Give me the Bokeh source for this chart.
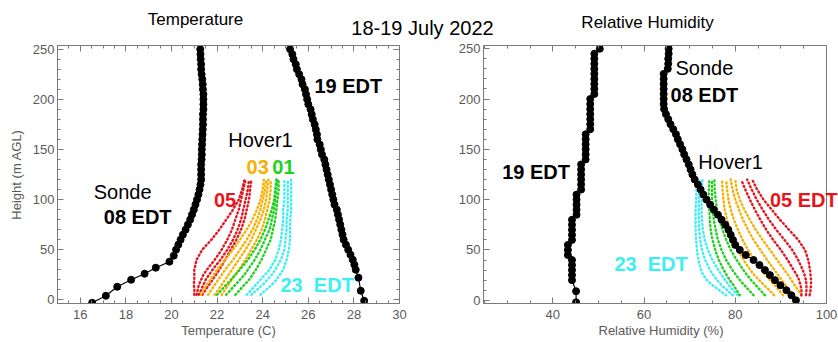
from bokeh.plotting import figure
from bokeh.models import Range1d, FixedTicker, LinearAxis, Label, Span
from bokeh.layouts import column, row
from bokeh.embed import file_html
from bokeh.resources import INLINE

FONT = "Liberation Sans"

# ---------------- data ----------------
HOVER_H = [5, 10, 15, 20, 25, 30, 40, 50, 60, 70, 80, 90, 100, 110, 120]

# Temperature (C) hover profiles
T_RED = [
    [21.0, 21.0, 20.98, 21.0, 21.0, 21.0, 21.1, 21.35, 21.75, 22.1, 22.4, 22.7, 22.95, 23.1, 23.2],
    [21.1, 21.15, 21.2, 21.3, 21.4, 21.55, 21.9, 22.2, 22.45, 22.65, 22.8, 22.95, 23.05, 23.15, 23.25],
    [21.2, 21.3, 21.4, 21.5, 21.65, 21.8, 22.15, 22.45, 22.7, 22.9, 23.05, 23.15, 23.25, 23.35, 23.4],
    [21.35, 21.5, 21.65, 21.8, 21.95, 22.1, 22.35, 22.6, 22.85, 23.05, 23.2, 23.3, 23.4, 23.45, 23.5],
]
T_ORANGE = [
    [21.3, 21.4, 21.55, 21.7, 21.85, 22.0, 22.35, 22.7, 23.0, 23.3, 23.55, 23.75, 23.9, 24.0, 24.05],
    [21.6, 21.75, 21.9, 22.05, 22.2, 22.35, 22.7, 23.0, 23.3, 23.55, 23.75, 23.9, 24.0, 24.1, 24.15],
    [21.9, 22.05, 22.2, 22.35, 22.5, 22.65, 22.95, 23.25, 23.5, 23.7, 23.9, 24.05, 24.15, 24.2, 24.25],
    [22.2, 22.35, 22.5, 22.65, 22.8, 22.95, 23.25, 23.5, 23.75, 23.95, 24.1, 24.2, 24.3, 24.35, 24.35],
]
T_GREEN = [
    [22.0, 22.2, 22.4, 22.6, 22.8, 23.0, 23.35, 23.65, 23.9, 24.1, 24.25, 24.4, 24.5, 24.55, 24.6],
    [22.4, 22.6, 22.8, 23.0, 23.2, 23.35, 23.65, 23.9, 24.1, 24.3, 24.4, 24.5, 24.55, 24.6, 24.65],
    [22.8, 23.0, 23.2, 23.4, 23.55, 23.7, 23.95, 24.15, 24.35, 24.45, 24.55, 24.6, 24.65, 24.7, 24.7],
]
T_CYAN = [
    [23.3, 23.5, 23.7, 23.9, 24.1, 24.3, 24.55, 24.7, 24.8, 24.85, 24.9, 24.9, 24.95, 24.95, 24.95],
    [23.5, 23.75, 24.0, 24.2, 24.4, 24.55, 24.8, 24.95, 25.0, 25.05, 25.05, 25.1, 25.1, 25.1, 25.1],
    [23.9, 24.15, 24.4, 24.6, 24.75, 24.9, 25.05, 25.15, 25.2, 25.2, 25.2, 25.25, 25.25, 25.25, 25.25],
]

# Relative humidity (%) hover profiles
RH_RED = [
    [94.5, 94.5, 94.3, 94.0, 93.5, 92.8, 91.5, 90.0, 88.3, 86.8, 85.5, 84.3, 83.2, 82.2, 81.3],
    [95.5, 95.6, 95.6, 95.5, 95.2, 94.8, 93.8, 92.5, 90.8, 89.0, 87.4, 86.0, 84.7, 83.6, 82.6],
    [96.3, 96.5, 96.6, 96.6, 96.5, 96.4, 96.0, 95.3, 93.8, 91.8, 89.8, 88.0, 86.2, 84.8, 83.7],
]
RH_ORANGE = [
    [88.5, 87.5, 86.3, 85.2, 84.2, 83.3, 81.8, 80.6, 79.6, 78.8, 78.2, 77.7, 77.4, 77.2, 77.1],
    [90.5, 89.6, 88.6, 87.6, 86.7, 85.8, 84.2, 82.8, 81.6, 80.6, 79.7, 79.0, 78.5, 78.2, 78.0],
    [92.5, 91.8, 91.0, 90.2, 89.4, 88.6, 87.0, 85.5, 84.0, 82.8, 81.7, 80.8, 80.0, 79.4, 79.0],
    [94.5, 93.8, 93.0, 92.3, 91.6, 90.8, 89.2, 87.6, 86.0, 84.5, 83.2, 82.0, 81.0, 80.3, 80.0],
]
RH_GREEN = [
    [81.0, 80.3, 79.6, 78.8, 78.1, 77.5, 76.4, 75.6, 75.0, 74.6, 74.4, 74.3, 74.2, 74.2, 74.3],
    [84.0, 83.0, 82.0, 81.0, 80.2, 79.4, 78.0, 77.0, 76.2, 75.7, 75.3, 75.0, 74.9, 74.9, 74.9],
    [86.5, 85.5, 84.5, 83.5, 82.6, 81.8, 80.3, 79.0, 78.0, 77.2, 76.5, 76.0, 75.7, 75.5, 75.4],
]
RH_CYAN = [
    [78.0, 76.5, 75.0, 73.8, 73.0, 72.5, 71.9, 71.6, 71.4, 71.3, 71.3, 71.3, 71.4, 71.5, 71.6],
    [79.5, 78.2, 77.0, 76.0, 75.2, 74.5, 73.4, 72.7, 72.3, 72.1, 72.0, 72.0, 72.0, 72.1, 72.2],
    [80.5, 79.5, 78.6, 77.8, 77.0, 76.3, 75.0, 74.0, 73.3, 72.9, 72.7, 72.6, 72.6, 72.7, 72.8],
]

# Sonde 08 EDT temperature
S08_T_H = [-3, 4, 13, 20, 26, 32, 38, 44, 50, 55, 60, 65, 70, 75, 80, 85, 90, 95, 100, 105,
           110, 115, 120, 125, 130, 135, 140, 145, 150, 155, 160, 165, 170, 175, 180, 185,
           190, 195, 200, 205, 210, 215, 220, 225, 230, 235, 240, 245, 250]
S08_T = [16.52, 17.12, 17.62, 18.23, 18.82, 19.31, 19.91, 20.1, 20.2, 20.3, 20.4, 20.5, 20.62,
         20.72, 20.82, 20.9, 20.98, 21.05, 21.12, 21.18, 21.23, 21.27, 21.3, 21.3, 21.3, 21.3,
         21.32, 21.33, 21.33, 21.34, 21.35, 21.36, 21.37, 21.38, 21.38, 21.38, 21.4, 21.4,
         21.4, 21.4, 21.38, 21.37, 21.35, 21.32, 21.3, 21.3, 21.28, 21.27, 21.26]

# Sonde 19 EDT temperature
S19_T_H = [-1, 9, 22, 30, 35, 40, 45, 50, 55, 60, 65, 70, 75, 80, 85, 90, 95, 100, 105, 110,
           115, 120, 125, 130, 135, 140, 145, 150, 155, 160, 165, 170, 175, 180, 185, 190, 195,
           200, 205, 210, 215, 220, 225, 230, 235, 240, 245, 250]
S19_T = [28.45, 28.3, 28.2, 28.08, 28.02, 27.95, 27.85, 27.75, 27.65, 27.55, 27.5, 27.45, 27.4,
         27.35, 27.3, 27.25, 27.15, 27.1, 27.05, 27.0, 26.95, 26.9, 26.85, 26.8, 26.75, 26.7,
         26.6, 26.55, 26.5, 26.4, 26.38, 26.33, 26.28, 26.2, 26.15, 26.1, 26.0, 25.95, 25.9,
         25.85, 25.75, 25.7, 25.6, 25.5, 25.45, 25.35, 25.3, 25.2]

# Sonde 19 EDT relative humidity
S19_RH_H = [-2, 9, 20, 25, 30, 35, 40, 45, 50, 55, 60, 65, 70, 75, 80, 85, 90, 95, 100, 105,
            110, 115, 120, 125, 130, 135, 140, 145, 150, 155, 160, 165, 170, 175, 180, 185,
            190, 195, 200, 205, 210, 215, 220, 225, 230, 235, 240, 245, 250]
S19_RH = [45.1, 45.1, 44.2, 44.2, 44.2, 44.2, 44.2, 43.3, 43.3, 43.3, 44.2, 44.2, 44.2, 44.2,
          44.2, 45.2, 45.2, 45.2, 45.2, 45.2, 46.2, 46.2, 46.2, 46.2, 46.2, 46.2, 47.2, 47.2,
          47.2, 47.2, 47.2, 47.2, 48.2, 48.2, 48.2, 48.2, 48.2, 48.2, 48.2, 49.1, 49.1, 49.1,
          49.1, 49.1, 49.1, 49.1, 49.1, 49.1, 50.3]

# Sonde 08 EDT relative humidity
S08_RH_H = [0, 5, 10, 15, 20, 25, 30, 35, 40, 45, 50, 55, 60, 65, 70, 75, 80, 85, 90, 95, 100,
            105, 110, 115, 120, 125, 130, 135, 140, 145, 150, 155, 160, 165, 170, 175, 180,
            185, 190, 195, 200, 205, 210, 215, 220, 225, 230, 235, 240, 245, 250]
S08_RH = [93.3, 92.3, 91.2, 89.9, 88.7, 87.6, 86.5, 85.3, 84.0, 82.3, 81.0, 80.0, 79.5, 79.0,
          78.5, 77.8, 77.0, 76.2, 75.3, 74.5, 73.7, 73.0, 72.4, 71.8, 71.1, 70.6, 70.2, 69.8,
          69.3, 68.8, 68.4, 67.9, 67.4, 67.0, 66.4, 65.8, 65.3, 64.8, 64.4, 64.3, 64.3, 64.3,
          64.3, 64.3, 64.3, 64.3, 65.2, 65.3, 65.3, 65.4, 65.4]

T_TICKS = [16, 18, 20, 22, 24, 26, 28, 30]
RH_TICKS = [40, 60, 80, 100]
H_TICKS = [0, 50, 100, 150, 200, 250]

RED = "#e8141c"
ORANGE = "#f8b000"
GREEN = "#1ed21e"
CYAN = "#3eeef6"
AX = "#7a7a7a"
TXT = "#5a5a5a"


def frange(a, b, step):
    out = []
    v = a
    while v <= b + 1e-9:
        out.append(round(v, 4))
        v += step
    return out


def tick_style(ax):
    ax.axis_line_color = AX
    ax.major_tick_line_color = AX
    ax.minor_tick_line_color = AX
    ax.major_tick_in = 6
    ax.major_tick_out = 0
    ax.minor_tick_in = 3
    ax.minor_tick_out = 0


def blank_axis(tk, bounds="auto"):
    ax = LinearAxis(ticker=tk, bounds=bounds)
    ax.major_label_text_color = None
    ax.major_label_text_font_size = "1px"
    ax.major_label_standoff = 0
    tick_style(ax)
    return ax


def style(p, xt, yt, xlabel, ylabel, xbounds="auto"):
    p.xgrid.visible = False
    p.ygrid.visible = False
    p.background_fill_color = "white"
    p.border_fill_color = "white"
    for ax, tk in ((p.xaxis[0], xt), (p.yaxis[0], yt)):
        ax.ticker = tk
        tick_style(ax)
        ax.major_label_text_font = FONT
        ax.major_label_text_font_size = "13px"
        ax.major_label_text_color = TXT
        ax.axis_label_text_font = FONT
        ax.axis_label_text_font_size = "13px"
        ax.axis_label_text_font_style = "normal"
        ax.axis_label_text_color = TXT
    p.xaxis[0].bounds = xbounds
    p.xaxis[0].axis_label = xlabel
    p.xaxis[0].major_label_standoff = 6
    p.xaxis[0].axis_label_standoff = 1
    p.yaxis[0].major_label_standoff = 3
    if ylabel:
        p.yaxis[0].axis_label = ylabel
        p.yaxis[0].axis_label_standoff = 6
    p.add_layout(blank_axis(xt, xbounds), "above")


def label(p, x, y, text, color="black", bold=True, size="20px"):
    p.add_layout(Label(x=x, y=y, text=text, text_align="left", text_baseline="middle",
                       text_font=FONT, text_font_size=size,
                       text_font_style="bold" if bold else "normal", text_color=color))


# ---------------- header ----------------
hdr = figure(width=838, height=41, x_range=Range1d(0, 838), y_range=Range1d(0, 41),
             output_backend="svg", toolbar_location=None, x_axis_type=None, y_axis_type=None,
             min_border=0, outline_line_color=None)
hdr.xgrid.visible = False
hdr.ygrid.visible = False
hdr.add_layout(Label(x=195, y=22, text="Temperature", text_align="center", text_baseline="middle",
                     text_font=FONT, text_font_size="17px", text_color="black"))
hdr.add_layout(Label(x=422, y=14, text="18-19 July 2022", text_align="center", text_baseline="middle",
                     text_font=FONT, text_font_size="20px", text_color="black"))
hdr.add_layout(Label(x=647, y=19, text="Relative Humidity", text_align="center", text_baseline="middle",
                     text_font=FONT, text_font_size="17px", text_color="black"))

# ---------------- temperature panel ----------------
p1 = figure(width=440, height=301, x_range=Range1d(15, 30), y_range=Range1d(-3.7, 253.7),
            output_backend="svg", toolbar_location=None,
            min_border_left=57, min_border_right=41, min_border_top=2, min_border_bottom=39)
xt1 = FixedTicker(ticks=T_TICKS, minor_ticks=frange(15, 30, 0.5))
yt1 = FixedTicker(ticks=H_TICKS, minor_ticks=frange(0, 250, 10))
style(p1, xt1, yt1, "Temperature (C)", "Height (m AGL)")
p1.outline_line_color = AX
p1.add_layout(blank_axis(yt1), "right")

for profs, col in ((T_RED, RED), (T_ORANGE, ORANGE), (T_GREEN, GREEN), (T_CYAN, CYAN)):
    for prof in profs:
        p1.line(prof, HOVER_H, line_color=col, line_width=2.4, line_dash="1 3", line_cap="round")

for xs, ys in ((S08_T, S08_T_H), (S19_T, S19_T_H)):
    p1.line(xs, ys, line_color="black", line_width=1.2)
    p1.scatter(xs, ys, size=7, color="black")

label(p1, 22.49, 159.6, "Hover1", bold=False)
label(p1, 23.29, 132, "03", ORANGE)
label(p1, 24.42, 132, "01", GREEN)
label(p1, 21.86, 100, "05", RED)
label(p1, 16.59, 108, "Sonde", bold=False)
label(p1, 17.03, 82.4, "08 EDT")
label(p1, 26.27, 213, "19 EDT")
label(p1, 24.78, 15, "23\u00a0\u00a0EDT", CYAN)

# ---------------- relative humidity panel ----------------
# frame runs to the page edge so the "05 EDT" note can pass the box; box edge drawn at 100 %
p2 = figure(width=398, height=301, x_range=Range1d(24.8, 102.63), y_range=Range1d(-3.2, 253.2),
            output_backend="svg", toolbar_location=None,
            min_border_left=43, min_border_right=0, min_border_top=4, min_border_bottom=36)
xt2 = FixedTicker(ticks=RH_TICKS, minor_ticks=frange(25, 100, 5))
yt2 = FixedTicker(ticks=H_TICKS, minor_ticks=frange(0, 250, 10))
style(p2, xt2, yt2, "Relative Humidity (%)", None, xbounds=(24.8, 100))
p2.outline_line_color = None
p2.xaxis[0].major_label_standoff = 8
p2.add_layout(Span(location=100, dimension="height", line_color=AX, line_width=1))

for profs, col in ((RH_CYAN, CYAN), (RH_GREEN, GREEN), (RH_ORANGE, ORANGE), (RH_RED, RED)):
    for prof in profs:
        p2.line(prof, HOVER_H, line_color=col, line_width=2.4, line_dash="1 3", line_cap="round")

for xs, ys in ((S08_RH, S08_RH_H), (S19_RH, S19_RH_H)):
    p2.line(xs, ys, line_color="black", line_width=1.2)
    p2.scatter(xs, ys, size=7, color="black")

label(p2, 66.9, 230.6, "Sonde", bold=False)
label(p2, 65.8, 204, "08 EDT")
label(p2, 71.9, 137.3, "Hover1", bold=False)
label(p2, 28.9, 127.5, "19 EDT")
label(p2, 87.6, 100, "05 EDT", RED)
label(p2, 53.5, 36, "23\u00a0\u00a0EDT", CYAN)

layout = column(hdr, row(p1, p2))
open("out.html", "w").write(file_html(layout, INLINE))
